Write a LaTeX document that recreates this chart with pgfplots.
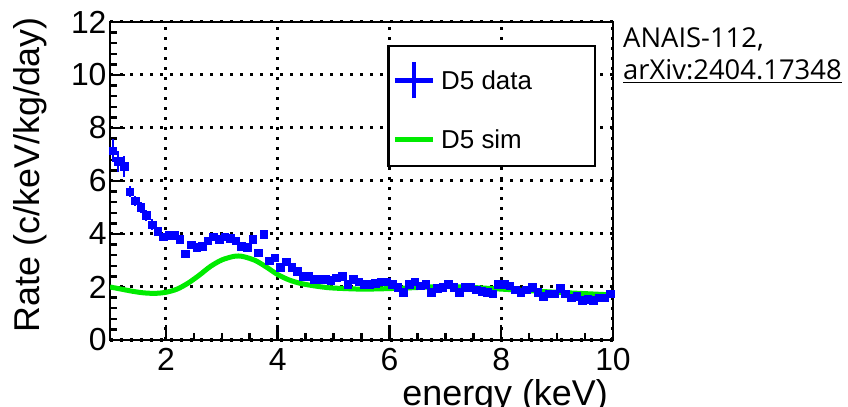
\documentclass[border=0pt]{standalone}
\usepackage{fontspec}
\setmainfont{Liberation Sans}
\newfontfamily\osans{Open Sans}
\usepackage{pgfplots}
\pgfplotsset{compat=1.18}

\definecolor{rootblue}{RGB}{0,0,255}
\definecolor{rootgreen}{RGB}{0,235,0}

\pgfplotstableread{
E R err
1.05 7.15 0.45
1.15 6.75 0.40
1.25 6.55 0.40
1.35 5.6 0.2
1.45 5.25 0.2
1.55 5.0 0.2
1.65 4.7 0.2
1.75 4.35 0.2
1.85 4.1 0.15
1.95 3.9 0.15
2.05 3.95 0.15
2.15 3.95 0.15
2.25 3.8 0.15
2.35 3.25 0.15
2.45 3.6 0.15
2.55 3.5 0.15
2.65 3.55 0.15
2.75 3.75 0.15
2.85 3.9 0.15
2.95 3.8 0.15
3.05 3.9 0.15
3.15 3.85 0.15
3.25 3.75 0.15
3.35 3.55 0.15
3.45 3.5 0.15
3.55 3.8 0.15
3.65 3.3 0.15
3.75 4.0 0.15
3.85 3.0 0.15
3.95 3.1 0.15
4.05 2.75 0.1
4.15 2.95 0.1
4.25 2.75 0.1
4.35 2.6 0.1
4.45 2.4 0.1
4.55 2.4 0.1
4.65 2.3 0.1
4.75 2.3 0.1
4.85 2.3 0.1
4.95 2.25 0.1
5.05 2.35 0.1
5.15 2.4 0.1
5.25 2.1 0.1
5.35 2.3 0.1
5.45 2.2 0.1
5.55 2.1 0.1
5.65 2.1 0.1
5.75 2.15 0.1
5.85 2.2 0.1
5.95 2.2 0.1
6.05 2.1 0.1
6.15 2.0 0.1
6.25 1.8 0.1
6.35 2.1 0.1
6.45 2.2 0.1
6.55 2.05 0.1
6.65 2.1 0.1
6.75 1.8 0.1
6.85 1.95 0.1
6.95 2.0 0.1
7.05 2.1 0.1
7.15 2.0 0.1
7.25 1.8 0.1
7.35 2.0 0.1
7.45 2.0 0.1
7.55 1.9 0.1
7.65 1.85 0.1
7.75 1.8 0.1
7.85 1.75 0.1
7.95 2.1 0.1
8.05 2.1 0.1
8.15 2.05 0.1
8.25 1.9 0.1
8.35 1.8 0.1
8.45 1.9 0.1
8.55 2.0 0.1
8.65 1.8 0.1
8.75 1.65 0.1
8.85 1.75 0.1
8.95 1.75 0.1
9.05 1.95 0.1
9.15 1.75 0.1
9.25 1.6 0.1
9.35 1.65 0.1
9.45 1.5 0.1
9.55 1.55 0.1
9.65 1.5 0.1
9.75 1.6 0.1
9.85 1.6 0.1
9.95 1.75 0.1
}\datatable

\pgfplotstableread{
E R
1.0 2.0
1.2 1.92
1.4 1.84
1.6 1.78
1.8 1.76
2.0 1.80
2.2 1.92
2.4 2.15
2.6 2.45
2.8 2.78
3.0 3.02
3.2 3.15
3.3 3.17
3.4 3.14
3.6 3.0
3.8 2.75
4.0 2.47
4.2 2.27
4.4 2.14
4.6 2.06
4.8 2.0
5.0 1.96
5.5 1.92
6.0 1.94
6.5 1.98
7.0 2.02
7.5 1.98
8.0 1.92
8.5 1.86
9.0 1.8
9.5 1.75
10.0 1.7
}\simtable

\begin{document}
\begin{tikzpicture}
\clip (0,0) rectangle (848bp,407bp);
\begin{axis}[
    at={(110bp,67bp)}, anchor=south west,
    scale only axis,
    width=503bp, height=318bp,
    xmin=1, xmax=10, ymin=0, ymax=12,
    xtick={2,4,6,8,10}, ytick={0,2,4,6,8,10,12},
    minor x tick num=3, minor y tick num=4,
    tick align=inside,
    xtick pos=bottom, ytick pos=left,
    major tick length=15bp, minor tick length=7bp,
    every tick/.style={black, line width=2.5bp},
    axis line style={line width=2.5bp},
    grid=major,
    major grid style={black, line width=3bp, dash pattern=on 3.2bp off 6.8bp},
    /pgf/number format/assume math mode=true,
    tick label style={font=\fontsize{32}{32}\selectfont},
    xticklabel style={yshift=-5bp},
    ylabel={Rate (c/keV/kg/day)},
    ylabel style={at={(rel axis cs:-0.159,0.52)}, anchor=center, font=\fontsize{36}{36}\selectfont},
    xlabel={energy (keV)},
    xlabel style={at={(rel axis cs:1,-0.2045)}, anchor=base east, inner sep=0pt, xshift=-5bp, font=\fontsize{36}{36}\selectfont},
    legend style={at={(rel axis cs:0.5507,0.928)}, anchor=north west,
        draw=black, line width=2.5bp, fill=white,
        inner xsep=4bp, inner ysep=14bp, row sep=27bp,
        font=\fontsize{26}{26}\selectfont, cells={anchor=west}},
]
\addplot[only marks, mark=square*, mark size=3.8bp, color=rootblue,
    error bars/.cd, y dir=both, y explicit,
    error bar style={rootblue, line width=2bp}, error mark=none,
    /pgfplots/legend image code/.code={\draw[rootblue, line width=4.5bp] (0bp,0bp) -- (38bp,0bp) (19bp,-18bp) -- (19bp,18bp);}]
    table[x=E, y=R, y error=err] {\datatable};
\addlegendentry{\hspace{4bp}\makebox[148bp][l]{D5 data}}
\addplot[rootgreen, line width=5bp, smooth, no marks,
    legend image code/.code={\draw[rootgreen, line width=5bp] (0bp,0bp) -- (38bp,0bp);}]
    table[x=E, y=R] {\simtable};
\addlegendentry{\hspace{4bp}\makebox[148bp][l]{D5 sim}}
\end{axis}
\node[anchor=base west, inner sep=0pt, font=\osans\fontsize{27.5}{30}\selectfont] at (623bp,359bp) {ANAIS-112,};
\node[anchor=base west, inner sep=0pt, font=\osans\fontsize{27.5}{30}\selectfont] at (623bp,327bp) {\underline{arXiv:2404.17348}};
\end{tikzpicture}
\end{document}
